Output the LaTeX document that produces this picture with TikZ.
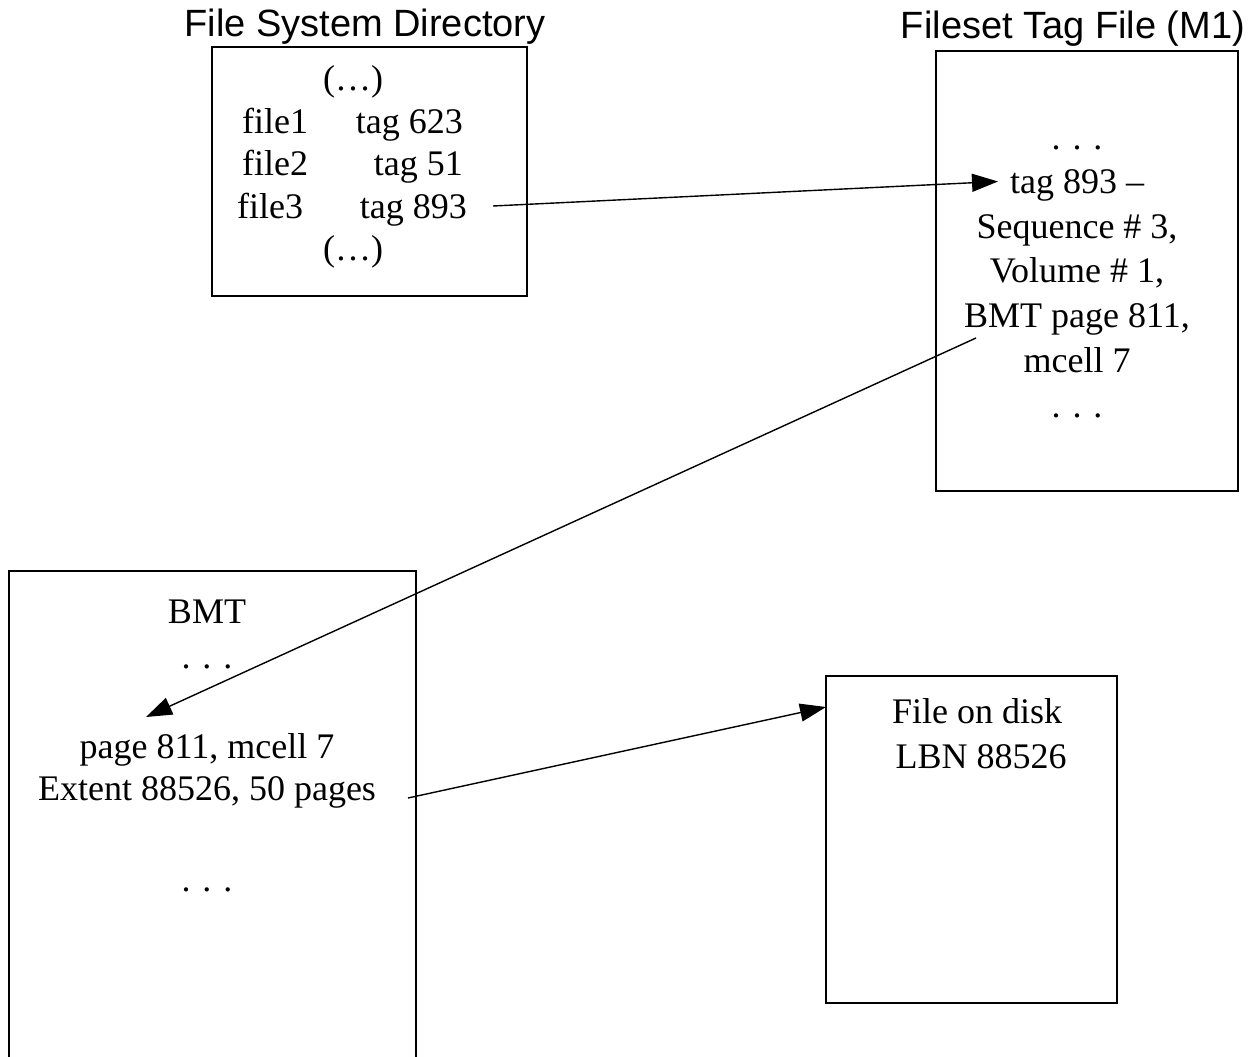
\documentclass[tikz,border=0pt]{standalone}
\usepackage{fontspec}
\setmainfont{Liberation Serif}
\newfontfamily\headfont{Liberation Sans}
\usetikzlibrary{arrows.meta}

\tikzset{
  panel/.style={draw=black, line width=1.6pt, inner sep=0pt, fill=none},
  txt/.style={inner sep=0pt, anchor=base, font=\fontsize{36}{42}\selectfont},
  head/.style={inner sep=0pt, anchor=base, font=\headfont\fontsize{38}{44}\selectfont},
  link/.style={draw=black, line width=1.4pt, -{Triangle[length=26pt,width=18pt]}}
}

\begin{document}
\begin{tikzpicture}[x=1pt, y=-1pt]
  \useasboundingbox (0,0) rectangle (1253,1057);
  \clip (0,0) rectangle (1253,1057);
  \fill[white] (0,0) rectangle (1253,1057);

  % panels
  \node[panel, minimum width=315pt, minimum height=249pt] (dir) at (369.5,171.5) {};
  \node[panel, minimum width=302pt, minimum height=440pt] (tagfile) at (1087,271) {};
  \node[panel, minimum width=407pt, minimum height=509pt] (bmt) at (212.5,825.5) {};
  \node[panel, minimum width=291pt, minimum height=327pt] (disk) at (971.5,839.5) {};

  % headings
  \node[head] (dirhead) at (365,37) {File System Directory};
  \node[head] (taghead) at (1073,39) {Fileset Tag File (M1)};

  % directory entries
  \node[txt] (dtop) at (353,90) {(…)};
  \node[txt, anchor=base west] (f1) at (242,133) {file1};
  \node[txt, anchor=base east] (t1) at (463,133) {tag 623};
  \node[txt, anchor=base west] (f2) at (242,175.5) {file2};
  \node[txt, anchor=base east] (t2) at (463,175.5) {tag 51};
  \node[txt, anchor=base west] (f3) at (237,218) {file3};
  \node[txt, anchor=base east] (t3) at (467,218) {tag 893};
  \node[txt] (dbot) at (353,260.5) {(…)};

  % tag file entry
  \node[txt] (tdots1) at (1077,149) {. . .};
  \node[txt] (tag) at (1077,193.5) {tag 893 –};
  \node[txt] (seq) at (1077,238) {Sequence \# 3,};
  \node[txt] (vol) at (1077,282.5) {Volume \# 1,};
  \node[txt] (bmtref) at (1077,327) {BMT page 811,};
  \node[txt] (mcell) at (1077,372) {mcell 7};
  \node[txt] (tdots2) at (1077,417) {. . .};

  % BMT entries
  \node[txt] (bmttitle) at (207,623) {BMT};
  \node[txt] (bdots1) at (207,668) {. . .};
  \node[txt] (page) at (207,758) {page 811, mcell 7};
  \node[txt] (extent) at (207,800) {Extent 88526, 50 pages};
  \node[txt] (bdots2) at (207,891) {. . .};

  % file on disk
  \node[txt] (fod) at (977,723) {File on disk};
  \node[txt] (lbn) at (981,768) {LBN 88526};

  % connector end points
  \coordinate (c1s) at (493,206);
  \coordinate (c1e) at (998,181.5);
  \coordinate (c2s) at (976,338);
  \coordinate (c2e) at (146,717);
  \coordinate (c3s) at (408,798);
  \coordinate (c3e) at (826,707);

  \draw[link] (c1s) -- (c1e);
  \draw[link] (c2s) -- (c2e);
  \draw[link] (c3s) -- (c3e);
\end{tikzpicture}
\end{document}
